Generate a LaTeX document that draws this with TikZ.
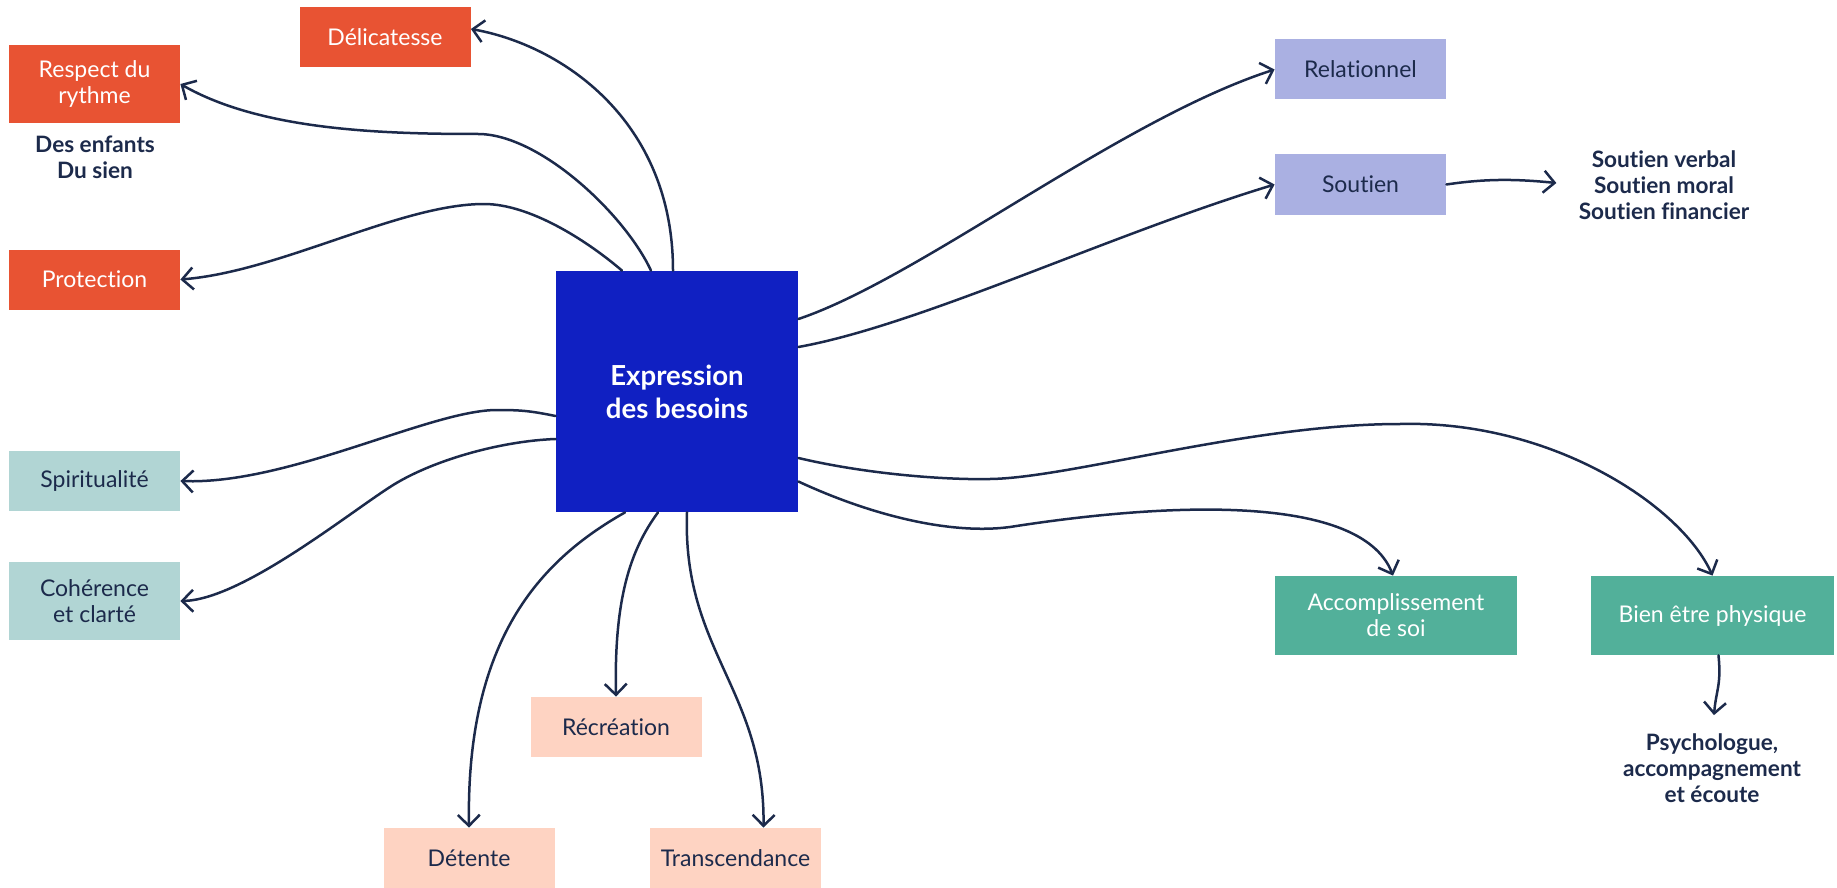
\documentclass[tikz,border=0pt]{standalone}
\usepackage{fontspec}
\setmainfont{Lato}[Ligatures={NoCommon}]
\usetikzlibrary{arrows.meta,calc}
\definecolor{orng}{HTML}{E85333}
\definecolor{cblue}{HTML}{1020C2}
\definecolor{tealc}{HTML}{B1D5D4}
\definecolor{peach}{HTML}{FED3C2}
\definecolor{lav}{HTML}{AAB0E2}
\definecolor{greenc}{HTML}{52B09A}
\definecolor{navy}{HTML}{1C2A4B}
\begin{document}
\begin{tikzpicture}[x=0.5pt,y=-0.5pt,
  box/.style={rectangle, inner sep=2pt, align=center, text=navy,
    font=\fontsize{11.5}{13}\selectfont, minimum width=85.5pt, minimum height=30pt},
  wbox/.style={box, text=white},
  central/.style={rectangle, fill=cblue, text=white, align=center,
    font=\bfseries\fontsize{13.8}{16.5}\selectfont, minimum width=121pt, minimum height=120.5pt},
  lbl/.style={inner sep=0pt, align=center, text=navy, font=\bfseries\fontsize{11.3}{13}\selectfont},
  link/.style={draw=navy, line width=1.25pt, line cap=round, -{Straight Barb[length=5.5pt,width=11pt]}}
]
\useasboundingbox (0,0) rectangle (1837,888);
% nodes
\node[wbox, fill=orng] (deli) at (385,37) {Délicatesse};
\node[wbox, fill=orng, minimum height=39pt] (resp) at (94.5,84) {Respect du\\rythme};
\node[lbl] (enf) at (95,157) {Des enfants\\Du sien};
\node[wbox, fill=orng] (prot) at (94.5,279.5) {Protection};
\node[box, fill=tealc] (spir) at (94.5,481) {Spiritualité};
\node[box, fill=tealc, minimum height=39pt] (coh) at (94.5,601) {Cohérence\\et clarté};
\node[central] (c) at (677,391.5) {Expression\\des besoins};
\node[box, fill=peach] (recr) at (616,727) {Récréation};
\node[box, fill=peach] (det) at (469,858) {Détente};
\node[box, fill=peach] (trans) at (735.5,858) {Transcendance};
\node[box, fill=lav] (rel) at (1360.5,69.5) {Relationnel};
\node[box, fill=lav] (sout) at (1360.5,184.5) {Soutien};
\node[lbl] (slist) at (1664,185) {Soutien verbal\\Soutien moral\\Soutien financier};
\node[wbox, fill=greenc, minimum width=121pt, minimum height=39.5pt] (acc) at (1396,615.5) {Accomplissement\\de soi};
\node[wbox, fill=greenc, minimum width=121.5pt, minimum height=39.5pt] (bien) at (1712.5,615.5) {Bien être physique};
\node[lbl] (psy) at (1712,768) {Psychologue,\\accompagnement\\et écoute};
% waypoints
\coordinate (w2) at (478,134);
\coordinate (w3) at (484,204);
\coordinate (w4) at (497,410);
\coordinate (w5) at (390,487);
\coordinate (w11a) at (990,479);
\coordinate (w11b) at (1400,424);
\coordinate (w12) at (1010,527);
% connectors
\draw[link] ($(c.north)+(-4,0)$) .. controls +(0,-151) and +(90,16) .. ($(deli.east)+(0,-8)$);
\draw[link] ($(c.north)+(-26,0)$) .. controls +(-26,-56) and +(62,0) .. (w2) .. controls +(-98,0) and +(80,46) .. (resp.east);
\draw[link] ($(c.north)+(-55,0)$) .. controls +(-35,-30) and +(46,0) .. (w3) .. controls +(-84,0) and +(100,-8) .. (prot.east);
\draw[link] ($(c.west)+(0,24.5)$) .. controls +(-25,-5) and +(25,0) .. (w4) .. controls +(-67,0) and +(108,4) .. (spir.east);
\draw[link] ($(c.west)+(0,47.5)$) .. controls +(-56,2) and +(40,-26) .. (w5) .. controls +(-45,29) and +(60,-1) .. (coh.east);
\draw[link] ($(c.south)+(-19,0)$) .. controls +(-28,38) and +(-2,-97) .. (recr.north);
\draw[link] ($(c.south)+(-52,0)$) .. controls +(-85,48) and +(-3,-188) .. (det.north);
\draw[link] ($(c.south)+(10,0)$) .. controls +(-5,138) and +(1.5,-138) .. ($(trans.north)+(28,0)$);
\draw[link] ($(c.east)+(0,-72.5)$) .. controls +(122,-41) and +(-155,50) .. (rel.west);
\draw[link] ($(c.east)+(0,-44.5)$) .. controls +(122,-22) and +(-165,50) .. (sout.west);
\draw[link] ($(c.east)+(0,66.5)$) .. controls +(72,17) and +(-40,1) .. (w11a) .. controls +(80,-1) and +(-150,0) .. (w11b) .. controls +(150,-4) and +(-32,-71) .. (bien.north);
\draw[link] ($(c.east)+(0,90)$) .. controls +(72,33.5) and +(-60,8) .. (w12) .. controls +(140,-22) and +(-33,-86) .. ($(acc.north)+(-3,0)$);
\draw[link] (sout.east) .. controls +(40,-6) and +(-40,-4) .. ($(slist.west)+(-22,-2)$);
\draw[link] ($(bien.south)+(6,0)$) .. controls +(3,30) and +(2,-25) .. ($(psy.north)+(2,-18)$);
\end{tikzpicture}
\end{document}
